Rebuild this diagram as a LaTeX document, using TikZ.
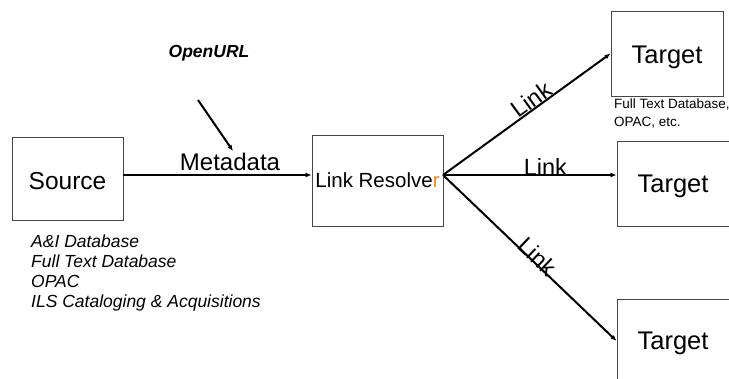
\documentclass[tikz,border=0pt]{standalone}
\usepackage{fontspec}
\setmainfont{Liberation Sans}
\usetikzlibrary{arrows.meta}
\definecolor{boxline}{RGB}{70,70,70}
\definecolor{lrorange}{RGB}{232,140,40}
\begin{document}
\begin{tikzpicture}[x=1pt,y=-1pt,
  box/.style={draw=boxline, line width=0.9pt, inner sep=0pt},
  boxtext/.style={font=\fontsize{25.5}{28}\selectfont},
  conn/.style={line width=2pt, -{Latex[length=6pt,width=5pt]}},
  linklabel/.style={font=\fontsize{23.5}{26}\selectfont, inner sep=1pt}]
\useasboundingbox (0,0) rectangle (729,378);
\fill[white] (0,0) rectangle (729,378);

% boxes with their texts
\node[box, minimum width=111pt, minimum height=83pt, font=\fontsize{24.5}{28}\selectfont, text height=21.5pt] (src) at (67.5,178.5) {Source};
\node[box, minimum width=131pt, minimum height=91pt, font=\fontsize{20.5}{24}\selectfont] (lr) at (377.5,180.5) {Link Resolve{\color{lrorange}r}};
\node[box, boxtext, minimum width=112pt, minimum height=85pt, text height=26pt] (t1) at (667,53.5) {Target};
\node[box, boxtext, minimum width=112pt, minimum height=85pt, text height=22.5pt] (t2) at (673,183.5) {Target};
\node[box, boxtext, minimum width=112pt, minimum height=84pt, text height=22.5pt] (t3) at (673,341) {Target};

% texts
\node[font=\fontsize{17.5}{20}\selectfont\bfseries\itshape] (openurl) at (209,53) {OpenURL};
\node[font=\fontsize{24}{27}\selectfont] (meta) at (230,162) {Metadata};
\node[anchor=north west, align=left, font=\fontsize{17.5}{20}\selectfont\itshape, inner sep=0pt] (srcdesc) at (31,235)
  {A\&I Database\\Full Text Database\\OPAC\\ILS Cataloging \& Acquisitions};
\node[anchor=north west, align=left, font=\fontsize{13.5}{18}\selectfont, inner sep=0pt] (tdesc) at (614,99)
  {Full Text Database,\\OPAC, etc.};

% connectors
\coordinate (hub) at (443,175);
\coordinate (ouA) at (198,100);
\coordinate (ouB) at (233,151);
\draw[conn] (ouA) -- (ouB);
\draw[conn] (src.east |- hub) -- (lr.west |- hub);
\draw[conn] (hub) -- (t1.west) node[linklabel, pos=0.56, sloped, above, inner sep=0pt] {Link};
\draw[conn] (hub) -- (t2.west |- hub) node[linklabel, pos=0.59, anchor=base, inner sep=0pt] {Link};
\draw[conn] (hub) -- (t3.west) node[linklabel, pos=0.52, sloped, anchor=base, yshift=-2pt] {Link};
\end{tikzpicture}
\end{document}
